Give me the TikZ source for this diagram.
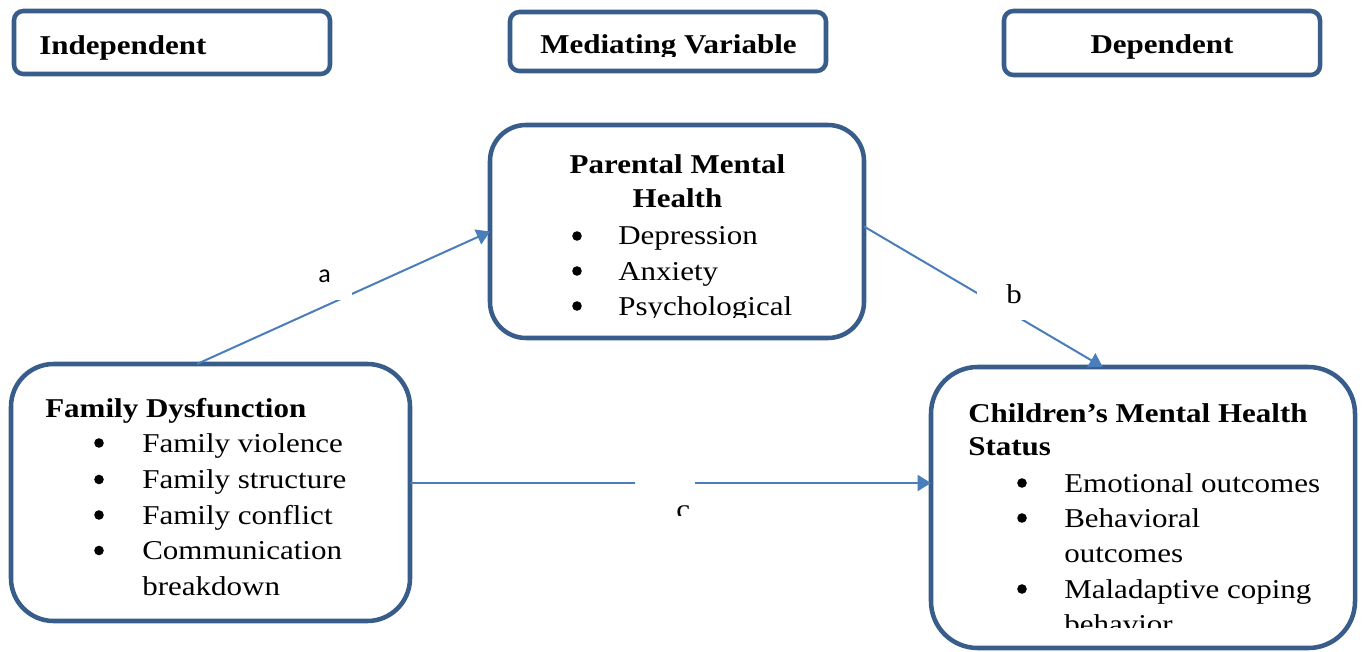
\documentclass[tikz,border=0pt]{standalone}
\usepackage{fontspec}
\setmainfont{Liberation Serif}[FakeStretch=1.14]
\newfontfamily\labelsans{Carlito}
\usetikzlibrary{arrows.meta,calc}
\definecolor{boxline}{HTML}{385D8A}
\definecolor{arrowline}{HTML}{4A7EBB}
\begin{document}
\begin{tikzpicture}[x=0.75pt,y=-0.75pt,
  hdrbox/.style={draw=boxline, line width=3.4pt, rounded corners=7pt, minimum width=237pt, inner sep=0, outer sep=0, fill=white},
  bigbox/.style={draw=boxline, line width=3.4pt, inner sep=0, outer sep=0, fill=white},
  txt/.style={inner sep=0, anchor=base west, font=\fontsize{20.4}{27}\selectfont},
  btxt/.style={inner sep=0, anchor=base west, font=\fontsize{20.4}{27}\selectfont\bfseries},
  ctxt/.style={inner sep=0, anchor=base, font=\fontsize{20.4}{27}\selectfont\bfseries},
  bul/.style={circle, fill=black, draw=none, inner sep=0, minimum size=7.2pt},
  conn/.style={draw=arrowline, line width=1.5pt, -{Triangle[length=10pt,width=12pt]}},
  gapbox/.style={fill=white, draw=none, inner sep=0, outer sep=0}]
\useasboundingbox (0,0) rectangle (1366,652);

% header boxes
\node[hdrbox, minimum height=47.25pt] (indep) at (172,42.5) {};
\node[hdrbox, minimum height=44.25pt] (medi) at (668,41.5) {};
\node[hdrbox, minimum height=48pt] (dep) at (1162,43) {};
\node[btxt] (tindep) at (39,55) {Independent};
\begin{scope}
  \clip (510,12) rectangle (826,56.5);
  \node[ctxt] (tmedi) at (668.5,54) {Mediating Variable};
\end{scope}
\node[ctxt] (tdep) at (1162,54) {Dependent};

% main boxes
\node[bigbox, rounded corners=27pt, minimum width=280.5pt, minimum height=159.75pt] (pm) at (677,231.5) {};
\node[bigbox, rounded corners=32pt, minimum width=299.25pt, minimum height=192.75pt] (fam) at (210.5,492.5) {};
\node[bigbox, rounded corners=35pt, minimum width=318pt, minimum height=210.75pt] (ch) at (1143,507.5) {};

% connectors
\coordinate (aS) at ($(fam.north)+(-13.5,0)$);
\coordinate (bS) at ($(pm.east)+(0,-5)$);
\coordinate (bE) at ($(ch.north west)!0.405!(ch.north east)$);
\coordinate (cS) at ($(fam.east)+(0,-9.5)$);
\draw[conn] (aS) -- (pm.west);
\draw[conn] (bS) -- (bE);
\draw[conn] (cS) -- (cS -| ch.west);

% label boxes covering the connectors
\node[gapbox, minimum width=39pt, minimum height=31.5pt] (gapa) at (326,279) {};
\node[gapbox, minimum width=47.25pt, minimum height=33.75pt] (gapb) at (1008.5,297.5) {};
\node[gapbox, minimum width=45pt, minimum height=34.5pt] (gapc) at (665,493) {};
\node[inner sep=0, anchor=base west, font=\labelsans\fontsize{19.5}{24}\selectfont] (la) at (318,282) {a};
\node[txt] (lb) at (1006,303) {b};
\begin{scope}
  \clip (635,470) rectangle (695,515.5);
  \node[txt] (lc) at (676,518) {c};
\end{scope}

% Parental Mental Health
\begin{scope}
  \clip (490,125) rectangle (864,317);
  \node[ctxt] (pm1) at (677.5,174) {Parental Mental};
  \node[ctxt] (pm2) at (677.5,208) {Health};
  \node[bul] (pmb1) at (577,236) {};
  \node[bul] (pmb2) at (577,271) {};
  \node[bul] (pmb3) at (577,306) {};
  \node[txt] (pmi1) at (618,245) {Depression};
  \node[txt] (pmi2) at (618,280) {Anxiety};
  \node[txt] (pmi3) at (618,315) {Psychological};
\end{scope}

% Family Dysfunction
\node[btxt] (fam0) at (45,417) {Family Dysfunction};
\node[bul] (famb1) at (99,443) {};
\node[bul] (famb2) at (99,479.5) {};
\node[bul] (famb3) at (99,515) {};
\node[bul] (famb4) at (99,550.5) {};
\node[txt] (fami1) at (142,452) {Family violence};
\node[txt] (fami2) at (142,488.5) {Family structure};
\node[txt] (fami3) at (142,524) {Family conflict};
\node[txt] (fami4) at (142,559.5) {Communication};
\node[txt] (fami5) at (142,595) {breakdown};

% Children's Mental Health Status
\begin{scope}
  \clip (931,367) rectangle (1355,627);
  \node[btxt] (ch0) at (968,422) {Children’s Mental Health};
  \node[btxt] (ch1) at (968,455) {Status};
  \node[bul] (chb1) at (1022,483) {};
  \node[bul] (chb2) at (1022,518) {};
  \node[bul] (chb3) at (1022,589) {};
  \node[txt] (chi1) at (1064,492) {Emotional outcomes};
  \node[txt] (chi2) at (1064,527) {Behavioral};
  \node[txt] (chi3) at (1064,562) {outcomes};
  \node[txt] (chi4) at (1064,598) {Maladaptive coping};
  \node[txt] (chi5) at (1064,633) {behavior};
\end{scope}
\end{tikzpicture}
\end{document}
